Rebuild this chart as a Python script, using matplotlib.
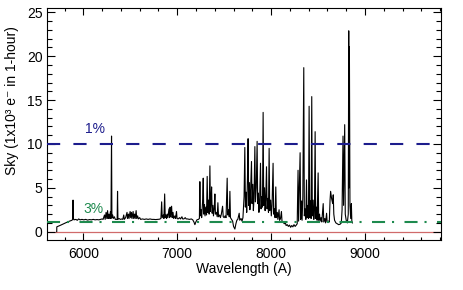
import matplotlib
matplotlib.use("Agg")
import matplotlib.pyplot as plt
from matplotlib.ticker import MultipleLocator

plt.rcParams["font.family"] = ["Liberation Sans", "DejaVu Sans"]
plt.rcParams["lines.scale_dashes"] = False

# Sky spectrum (wavelength in A, counts in 1e3 e-)
sky_wave = [
    5716, 5717, 5760, 5800, 5840, 5878, 5886, 5890, 5894, 5900,
    5920, 5935, 5950, 5965, 5985, 6005, 6025, 6045, 6065, 6085,
    6105, 6125, 6145, 6165, 6185, 6200, 6210, 6225, 6232, 6242,
    6250, 6258, 6264, 6272, 6280, 6288, 6294, 6300, 6304, 6312,
    6318, 6330, 6340, 6360, 6364, 6368, 6380, 6395, 6410, 6420,
    6430, 6436, 6450, 6465, 6470, 6480, 6486, 6498, 6504, 6512,
    6518, 6530, 6536, 6545, 6552, 6562, 6568, 6578, 6585, 6600,
    6610, 6630, 6650, 6670, 6690, 6710, 6730, 6750, 6770, 6790,
    6810, 6826, 6834, 6840, 6852, 6858, 6866, 6872, 6880, 6886,
    6893, 6900, 6912, 6918, 6924, 6930, 6940, 6946, 6955, 6962,
    6975, 6982, 6992, 6998, 7010, 7025, 7035, 7050, 7058, 7070,
    7085, 7095, 7110, 7130, 7150, 7165, 7178, 7188, 7198, 7210,
    7225, 7236, 7241, 7246, 7255, 7260, 7270, 7277, 7283, 7290,
    7296, 7305, 7312, 7319, 7325, 7333, 7340, 7348, 7354, 7360,
    7366, 7372, 7380, 7386, 7394, 7401, 7407, 7416, 7426, 7433,
    7440, 7452, 7460, 7470, 7483, 7490, 7500, 7510, 7520, 7532,
    7538, 7548, 7554, 7561, 7567, 7578, 7590, 7600, 7614, 7625,
    7635, 7645, 7660, 7666, 7680, 7690, 7700, 7712, 7720, 7726,
    7734, 7740, 7748, 7755, 7761, 7768, 7774, 7780, 7791, 7797,
    7805, 7811, 7818, 7827, 7833, 7842, 7851, 7857, 7864, 7870,
    7878, 7887, 7893, 7900, 7908, 7915, 7921, 7930, 7936, 7943,
    7951, 7957, 7965, 7972, 7979, 7985, 7995, 8002, 8010, 8021,
    8027, 8036, 8042, 8050, 8056, 8066, 8072, 8085, 8090, 8100,
    8110, 8116, 8128, 8140, 8152, 8160, 8172, 8184, 8196, 8208,
    8220, 8232, 8244, 8256, 8268, 8278, 8287, 8293, 8300, 8309,
    8315, 8324, 8330, 8338, 8348, 8354, 8362, 8370, 8377, 8383,
    8392, 8398, 8405, 8411, 8420, 8426, 8433, 8439, 8448, 8455,
    8462, 8469, 8475, 8484, 8490, 8501, 8507, 8516, 8522, 8532,
    8540, 8555, 8561, 8572, 8580, 8591, 8597, 8610, 8620, 8628,
    8634, 8644, 8656, 8662, 8668, 8676, 8690, 8705, 8720, 8735,
    8748, 8756, 8766, 8772, 8784, 8790, 8800, 8812, 8822, 8827,
    8830, 8834, 8840, 8848, 8855, 8860, 8866,
]
sky_flux = [
    0.0, 0.55, 0.75, 0.95, 1.15, 1.3, 1.4, 3.6, 1.5, 1.35,
    1.4, 1.3, 1.45, 1.35, 1.4, 1.35, 1.4, 1.32, 1.38, 1.35,
    1.4, 1.35, 1.38, 1.35, 1.4, 1.45, 1.4, 1.9, 1.4, 2.2,
    1.5, 2.4, 1.5, 2.0, 1.5, 2.3, 1.5, 10.9, 1.6, 1.9,
    1.5, 1.7, 1.4, 1.4, 4.6, 1.4, 1.5, 1.4, 1.45, 1.4,
    1.9, 1.4, 1.6, 2.2, 1.5, 2.0, 1.5, 2.3, 1.6, 2.2,
    1.5, 2.3, 1.5, 2.0, 1.5, 2.4, 1.5, 1.8, 1.45, 1.6,
    1.4, 1.45, 1.4, 1.45, 1.4, 1.45, 1.4, 1.4, 1.38, 1.4,
    1.42, 1.5, 3.4, 1.6, 1.9, 1.5, 4.3, 1.6, 1.9, 1.5,
    2.0, 1.6, 2.6, 1.6, 2.8, 1.7, 2.9, 1.6, 2.2, 1.5,
    1.8, 1.5, 2.3, 1.5, 1.45, 1.6, 1.45, 1.7, 1.45, 1.45,
    1.6, 1.45, 1.45, 1.4, 1.45, 1.35, 1.1, 0.8, 1.1, 1.35,
    1.4, 1.5, 5.7, 1.8, 2.5, 1.6, 3.4, 6.1, 2.0, 3.1,
    1.8, 2.8, 1.9, 6.3, 2.2, 3.6, 2.0, 7.5, 2.3, 3.4,
    5.1, 2.1, 3.0, 1.8, 2.6, 4.3, 2.0, 2.2, 1.7, 3.3,
    1.7, 1.9, 1.6, 2.0, 2.9, 1.7, 1.6, 1.8, 1.6, 6.1,
    1.9, 2.5, 1.7, 4.6, 1.6, 1.4, 1.2, 0.6, 0.3, 0.9,
    1.3, 1.4, 2.1, 1.3, 1.5, 1.2, 1.6, 4.0, 9.6, 2.8,
    4.5, 2.2, 6.0, 10.6, 3.0, 5.6, 2.5, 4.2, 8.0, 3.2,
    5.4, 2.4, 3.8, 9.7, 3.4, 5.0, 10.3, 3.2, 4.4, 2.2,
    3.6, 7.8, 2.6, 4.0, 2.8, 13.6, 3.0, 5.0, 2.4, 3.6,
    7.4, 2.6, 3.8, 2.2, 9.5, 2.4, 3.6, 1.8, 3.0, 7.8,
    2.0, 2.6, 1.6, 5.1, 1.6, 2.2, 1.4, 2.5, 1.3, 1.5,
    2.3, 1.2, 1.1, 0.9, 1.0, 0.7, 0.8, 0.6, 0.75, 0.5,
    0.7, 0.55, 0.8, 0.6, 0.75, 0.9, 7.0, 1.2, 4.5, 9.0,
    1.4, 3.5, 1.3, 4.0, 18.7, 1.8, 2.6, 1.4, 5.9, 1.6,
    3.0, 1.5, 14.3, 1.6, 3.5, 1.5, 15.4, 1.8, 3.6, 1.4,
    2.6, 11.4, 1.5, 2.8, 1.3, 6.7, 1.3, 2.0, 1.2, 1.6,
    1.1, 3.2, 1.1, 1.5, 1.0, 2.1, 1.1, 1.2, 1.1, 3.6,
    4.6, 3.8, 3.2, 4.2, 2.0, 1.3, 1.0, 0.9, 0.8, 0.85,
    1.0, 2.5, 10.9, 3.0, 12.2, 2.0, 1.3, 1.0, 2.0, 22.9,
    5.0, 21.1, 3.0, 1.5, 3.2, 1.2, 1.0,
]

level_1pct = 10.0
level_3pct = 1.12
level_zero = 0.0

fig = plt.figure(figsize=(4.63, 2.90), dpi=100)
ax = fig.add_axes([0.101, 0.1724, 0.8515, 0.8]) 

ax.axhline(level_zero, color="#d06a6a", lw=0.9, zorder=1)
ax.plot(sky_wave, sky_flux, color="black", lw=0.8, zorder=2)
ax.axhline(level_1pct, color="#1c1c8c", lw=1.5, dashes=(9.5, 9.5), zorder=3)
ax.axhline(level_3pct, color="#1e8a4e", lw=1.5,
           dashes=(9.4, 5.0, 1.5, 7.5), zorder=3)

ax.text(6125, 11.7, "1%", color="#1c1c8c", fontsize=10, ha="center", va="center")
ax.text(6105, 2.6, "3%", color="#1e8a4e", fontsize=10, ha="center", va="center")

ax.set_xlim(5610, 9810)
ax.set_ylim(-0.95, 25.5)
ax.xaxis.set_major_locator(MultipleLocator(1000))
ax.xaxis.set_minor_locator(MultipleLocator(200))
ax.yaxis.set_major_locator(MultipleLocator(5))
ax.yaxis.set_minor_locator(MultipleLocator(1))
ax.tick_params(which="both", direction="in", top=True, right=True,
               labelsize=10, width=0.8)
ax.tick_params(axis="x", which="major", length=5, pad=5)
ax.tick_params(axis="x", which="minor", length=2.5)
ax.tick_params(axis="y", which="major", length=6, pad=3)
ax.tick_params(axis="y", which="minor", length=3.5)
for sp in ax.spines.values():
    sp.set_linewidth(0.8)

ax.set_xlabel("Wavelength (A)", fontsize=10, labelpad=1)
ax.set_ylabel("Sky (1x10\u00b3 e\u207b in 1-hour)", fontsize=10)
ax.yaxis.set_label_coords(-0.07, 0.60)

fig.savefig("out.png", dpi=100)
